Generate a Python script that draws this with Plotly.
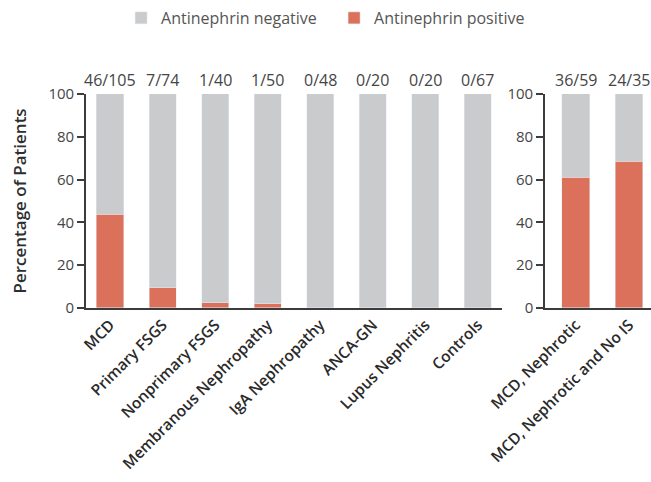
import plotly.graph_objects as go

# Patient groups and antinephrin-positive counts (positive / total)
groups_main = ["MCD", "Primary FSGS", "Nonprimary FSGS", "Membranous Nephropathy",
               "IgA Nephropathy", "ANCA-GN", "Lupus Nephritis", "Controls"]
pos_main = [46, 7, 1, 1, 0, 0, 0, 0]
tot_main = [105, 74, 40, 50, 48, 20, 20, 67]

groups_sub = ["MCD, Nephrotic", "MCD, Nephrotic and No IS"]
pos_sub = [36, 24]
tot_sub = [59, 35]

y_ticks = [0, 20, 40, 60, 80, 100]

NEG_COLOR = "#c9cbcc"
POS_COLOR = "#db705b"
AXIS_COLOR = "#3c3c3c"
FONT = "Open Sans"


def pct(p, t):
    return [100.0 * a / b for a, b in zip(p, t)]


pos_pct_main = pct(pos_main, tot_main)
neg_pct_main = [100 - v for v in pos_pct_main]
pos_pct_sub = pct(pos_sub, tot_sub)
neg_pct_sub = [100 - v for v in pos_pct_sub]

BAR_W = 0.52

fig = go.Figure()

# Main panel
fig.add_trace(go.Bar(x=groups_main, y=pos_pct_main, marker_color=POS_COLOR,
                     name="Antinephrin positive", legendrank=2, width=BAR_W,
                     xaxis="x", yaxis="y", hoverinfo="skip"))
fig.add_trace(go.Bar(x=groups_main, y=neg_pct_main, marker_color=NEG_COLOR,
                     name="Antinephrin negative", legendrank=1, width=BAR_W,
                     xaxis="x", yaxis="y", hoverinfo="skip"))
# Subgroup panel
fig.add_trace(go.Bar(x=groups_sub, y=pos_pct_sub, marker_color=POS_COLOR,
                     showlegend=False, width=BAR_W,
                     xaxis="x2", yaxis="y2", hoverinfo="skip"))
fig.add_trace(go.Bar(x=groups_sub, y=neg_pct_sub, marker_color=NEG_COLOR,
                     showlegend=False, width=BAR_W,
                     xaxis="x2", yaxis="y2", hoverinfo="skip"))

count_font = dict(family=FONT, size=16, color="#454545")
annotations = []
for g, p, t in zip(groups_main, pos_main, tot_main):
    annotations.append(dict(x=g, y=100, xref="x", yref="y", text=f"{p}/{t}",
                            showarrow=False, yanchor="bottom", yshift=1,
                            font=count_font))
for g, p, t in zip(groups_sub, pos_sub, tot_sub):
    annotations.append(dict(x=g, y=100, xref="x2", yref="y2", text=f"{p}/{t}",
                            showarrow=False, yanchor="bottom", yshift=1,
                            font=count_font))
annotations.append(dict(x=0.03, y=0.583, xref="paper", yref="paper",
                        xanchor="center", yanchor="middle",
                        text="Percentage of Patients", textangle=-90,
                        showarrow=False,
                        font=dict(family=FONT, size=17, color="#2e2e2e", weight=600)))

xaxis_common = dict(showline=True, linecolor=AXIS_COLOR, linewidth=1.6,
                    ticks="", tickangle=-45, automargin=False,
                    tickfont=dict(family=FONT, size=15.5, color="#2a2a2a", weight=600),
                    showgrid=False, zeroline=False)
yaxis_common = dict(range=[0, 100], tickvals=y_ticks, showline=True,
                    linecolor=AXIS_COLOR, linewidth=1.6, ticks="outside",
                    ticklen=7, tickwidth=1.6, tickcolor=AXIS_COLOR, automargin=False,
                    tickfont=dict(family=FONT, size=15, color="#454545"),
                    showgrid=False, zeroline=False)

fig.update_layout(
    width=651, height=482,
    margin=dict(l=0, r=0, t=0, b=0),
    barmode="stack",
    plot_bgcolor="white", paper_bgcolor="white",
    font=dict(family=FONT),
    xaxis=dict(**xaxis_common, domain=[0.1321, 0.7711], range=[-0.46, 7.46], anchor="y"),
    yaxis=dict(**yaxis_common, domain=[0.361, 0.805], anchor="x"),
    xaxis2=dict(**xaxis_common, domain=[0.8372, 1.0], range=[-0.576, 1.41], anchor="y2"),
    yaxis2=dict(**yaxis_common, domain=[0.361, 0.805], anchor="x2"),
    legend=dict(orientation="h", x=0.186, y=0.998, xanchor="left", yanchor="top",
                font=dict(family=FONT, size=16, color="#555"),
                traceorder="normal", entrywidth=168, entrywidthmode="pixels"),
    annotations=annotations,
    showlegend=True,
)

fig.write_html("out.html")
